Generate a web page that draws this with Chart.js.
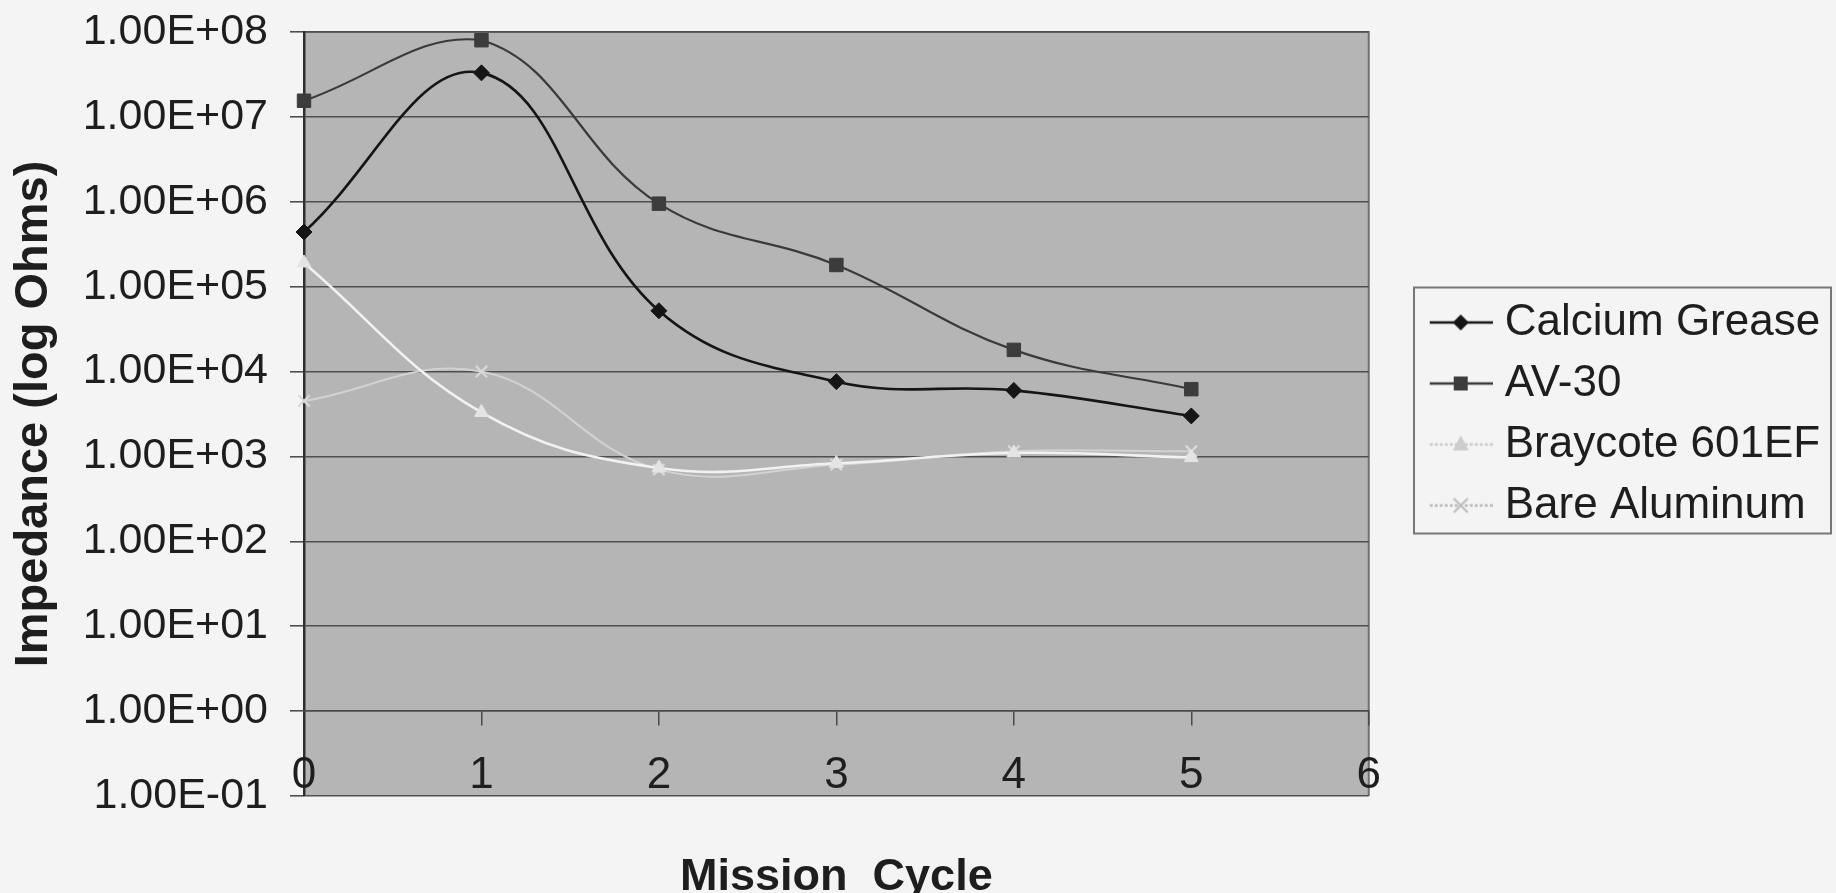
<!DOCTYPE html>
<html>
<head>
<meta charset="utf-8">
<script src="https://cdn.jsdelivr.net/npm/chart.js@4.4.1/dist/chart.umd.min.js"></script>
<style>
html,body{margin:0;padding:0;background:#f4f4f4;overflow:hidden}
canvas{display:block}
</style>
</head>
<body>
<canvas id="c" width="1836" height="893"></canvas>
<script>
// ---- data ----
const missionCycles = [0, 1, 2, 3, 4, 5];
const calciumGrease = [4.4e5, 3.3e7, 5.2e4, 7.6e3, 6.0e3, 3.0e3];
const av30 = [1.55e7, 8.0e7, 9.5e5, 1.8e5, 1.8e4, 6.2e3];
const braycote601EF = [1.9e5, 3.3e3, 7.3e2, 8.3e2, 1.1e3, 0.97e3];
const bareAluminum = [4.5e3, 1.0e4, 7.0e2, 8.0e2, 1.15e3, 1.15e3];
const seriesNames = ['Calcium Grease', 'AV-30', 'Braycote 601EF', 'Bare Aluminum'];
const yTickLabels = ['1.00E-01', '1.00E+00', '1.00E+01', '1.00E+02', '1.00E+03',
                     '1.00E+04', '1.00E+05', '1.00E+06', '1.00E+07', '1.00E+08'];
const xTickLabels = ['0', '1', '2', '3', '4', '5', '6'];
const xTitle = 'Mission  Cycle';
const yTitle = 'Impedance (log Ohms)';

// ---- styling ----
const FONT = '"Liberation Sans", Arial, sans-serif';
const NARROW = '"Liberation Sans Narrow", "Liberation Sans", Arial, sans-serif';
const TEXT = '#1e1e1e';
const styles = [
  {line: '#151515', mark: '#151515', shape: 'rectRot', r: 8, w: 2.6, legLine: '#151515', legMark: '#151515', dash: false},
  {line: '#3a3a3a', mark: '#3c3c3c', shape: 'rect', r: 9.5, w: 2.2, legLine: '#3a3a3a', legMark: '#3c3c3c', dash: false},
  {line: '#f2f2f2', mark: '#e4e4e4', shape: 'triangle', r: 8, w: 2.6, legLine: '#c9c9c9', legMark: '#cdcdcd', dash: true},
  {line: '#d2d2d2', mark: '#d9d9d9', shape: 'crossRot', r: 8, w: 2.0, legLine: '#b8b8b8', legMark: '#bdbdbd', dash: true}
];
const seriesValues = [calciumGrease, av30, braycote601EF, bareAluminum];

// legend symbol: short line with the marker in its middle, drawn in the right part of the image
function legendSymbol(s) {
  const c = document.createElement('canvas');
  c.width = 117; c.height = 24;
  const g = c.getContext('2d');
  const x0 = 54, x1 = 117, cx = 85, cy = 12;
  g.strokeStyle = s.legLine; g.lineWidth = 2.5;
  if (s.dash) g.setLineDash([3, 2]);
  g.beginPath(); g.moveTo(x0, cy); g.lineTo(x1, cy); g.stroke();
  g.setLineDash([]);
  g.fillStyle = s.legMark; g.strokeStyle = s.legMark;
  g.beginPath();
  if (s.shape === 'rectRot') {
    g.moveTo(cx, cy - 8); g.lineTo(cx + 8, cy); g.lineTo(cx, cy + 8); g.lineTo(cx - 8, cy); g.closePath(); g.fill();
  } else if (s.shape === 'rect') {
    g.rect(cx - 7, cy - 7, 14, 14); g.fill();
  } else if (s.shape === 'triangle') {
    g.moveTo(cx, cy - 9); g.lineTo(cx + 8, cy + 6); g.lineTo(cx - 8, cy + 6); g.closePath(); g.fill();
  } else {
    g.lineWidth = 2.2;
    g.moveTo(cx - 7, cy - 7); g.lineTo(cx + 7, cy + 7); g.moveTo(cx + 7, cy - 7); g.lineTo(cx - 7, cy + 7); g.stroke();
  }
  return c;
}
const legendSymbols = styles.map(legendSymbol);

const datasets = seriesNames.map((name, k) => ({
  label: name,
  data: missionCycles.map((x, i) => ({x: x, y: seriesValues[k][i]})),
  borderColor: styles[k].line,
  backgroundColor: styles[k].mark,
  pointBackgroundColor: styles[k].mark,
  pointBorderColor: styles[k].mark,
  borderWidth: styles[k].w,
  pointStyle: styles[k].shape,
  pointRadius: styles[k].r,
  pointBorderWidth: styles[k].shape === 'crossRot' ? 2.2 : 1,
  tension: 0.4,
  clip: false,
  xAxisID: 'x',
  yAxisID: 'y'
}));

const framePlugin = {
  id: 'frame',
  beforeDraw(chart) {
    const {ctx, chartArea: a} = chart;
    ctx.save();
    ctx.fillStyle = '#f4f4f4';
    ctx.fillRect(0, 0, chart.width, chart.height);
    ctx.fillStyle = '#b5b5b5';
    ctx.fillRect(a.left, a.top, a.right - a.left, a.bottom - a.top);
    ctx.strokeStyle = '#707070';
    ctx.lineWidth = 2;
    ctx.beginPath();
    ctx.moveTo(a.left, a.top); ctx.lineTo(a.right, a.top); ctx.lineTo(a.right, a.bottom);
    ctx.stroke();
    ctx.restore();
  },
  afterDraw(chart) {
    const lg = chart.legend;
    if (!lg || !lg.legendHitBoxes || !lg.legendHitBoxes.length) return;
    const hb = lg.legendHitBoxes;
    const top = hb[0].top - 13;
    const bottom = hb[hb.length - 1].top + 50;
    const left = 1414;
    const ctx = chart.ctx;
    ctx.save();
    ctx.strokeStyle = '#777';
    ctx.lineWidth = 2;
    ctx.strokeRect(left, top, chart.width - 5 - left, bottom - top);
    ctx.restore();
  }
};

new Chart(document.getElementById('c'), {
  type: 'line',
  data: {datasets: datasets},
  plugins: [framePlugin],
  options: {
    responsive: false,
    animation: false,
    events: [],
    layout: {padding: {top: 32, bottom: 97, left: 0, right: 11}},
    plugins: {
      tooltip: {enabled: false},
      title: {display: false},
      legend: {
        display: true,
        position: 'right',
        align: 'center',
        labels: {
          usePointStyle: true,
          pointStyleWidth: 97,
          padding: 17,
          color: TEXT,
          font: {family: FONT, size: 44},
          generateLabels(chart) {
            const items = Chart.defaults.plugins.legend.labels.generateLabels(chart);
            items.forEach((it, i) => { it.pointStyle = legendSymbols[i]; it.lineWidth = 0; });
            return items;
          }
        }
      }
    },
    scales: {
      y: {
        type: 'logarithmic',
        axis: 'y',
        position: 'left',
        min: Number(yTickLabels[0]),
        max: Number(yTickLabels[yTickLabels.length - 1]),
        afterBuildTicks(s) { s.ticks = yTickLabels.map(t => ({value: Number(t)})); },
        afterFit(s) { s.width = 304; s.paddingTop = 0; s.paddingBottom = 0; },
        ticks: {
          autoSkip: false,
          padding: 22,
          color: TEXT,
          font: {family: FONT, size: 43},
          callback: (v, i) => yTickLabels[i]
        },
        grid: {color: '#4f4f4f', lineWidth: 1.6, drawTicks: true, tickLength: 14, tickColor: '#4f4f4f'},
        border: {display: true, color: '#2e2e2e', width: 2.5},
        title: {
          display: true, text: yTitle, color: TEXT,
          font: {family: FONT, size: 47, weight: 'bold'},
          padding: {top: 6, bottom: 0}
        }
      },
      x: {
        type: 'linear',
        axis: 'x',
        position: {y: 1},
        min: Number(xTickLabels[0]),
        max: Number(xTickLabels[xTickLabels.length - 1]),
        afterBuildTicks(s) { s.ticks = xTickLabels.map(t => ({value: Number(t)})); },
        ticks: {
          autoSkip: false,
          maxRotation: 0,
          padding: 24,
          color: TEXT,
          font: {family: NARROW, size: 44},
          callback: (v, i) => xTickLabels[i]
        },
        grid: {drawOnChartArea: false, drawTicks: true, tickLength: 14, color: '#4a4a4a', lineWidth: 1.5},
        border: {display: true, color: '#4a4a4a', width: 1.6},
        title: {
          display: true, text: xTitle, color: TEXT,
          font: {family: FONT, size: 45, weight: 'bold'},
          padding: {top: 25, bottom: 0}
        }
      }
    }
  }
});
</script>
</body>
</html>
